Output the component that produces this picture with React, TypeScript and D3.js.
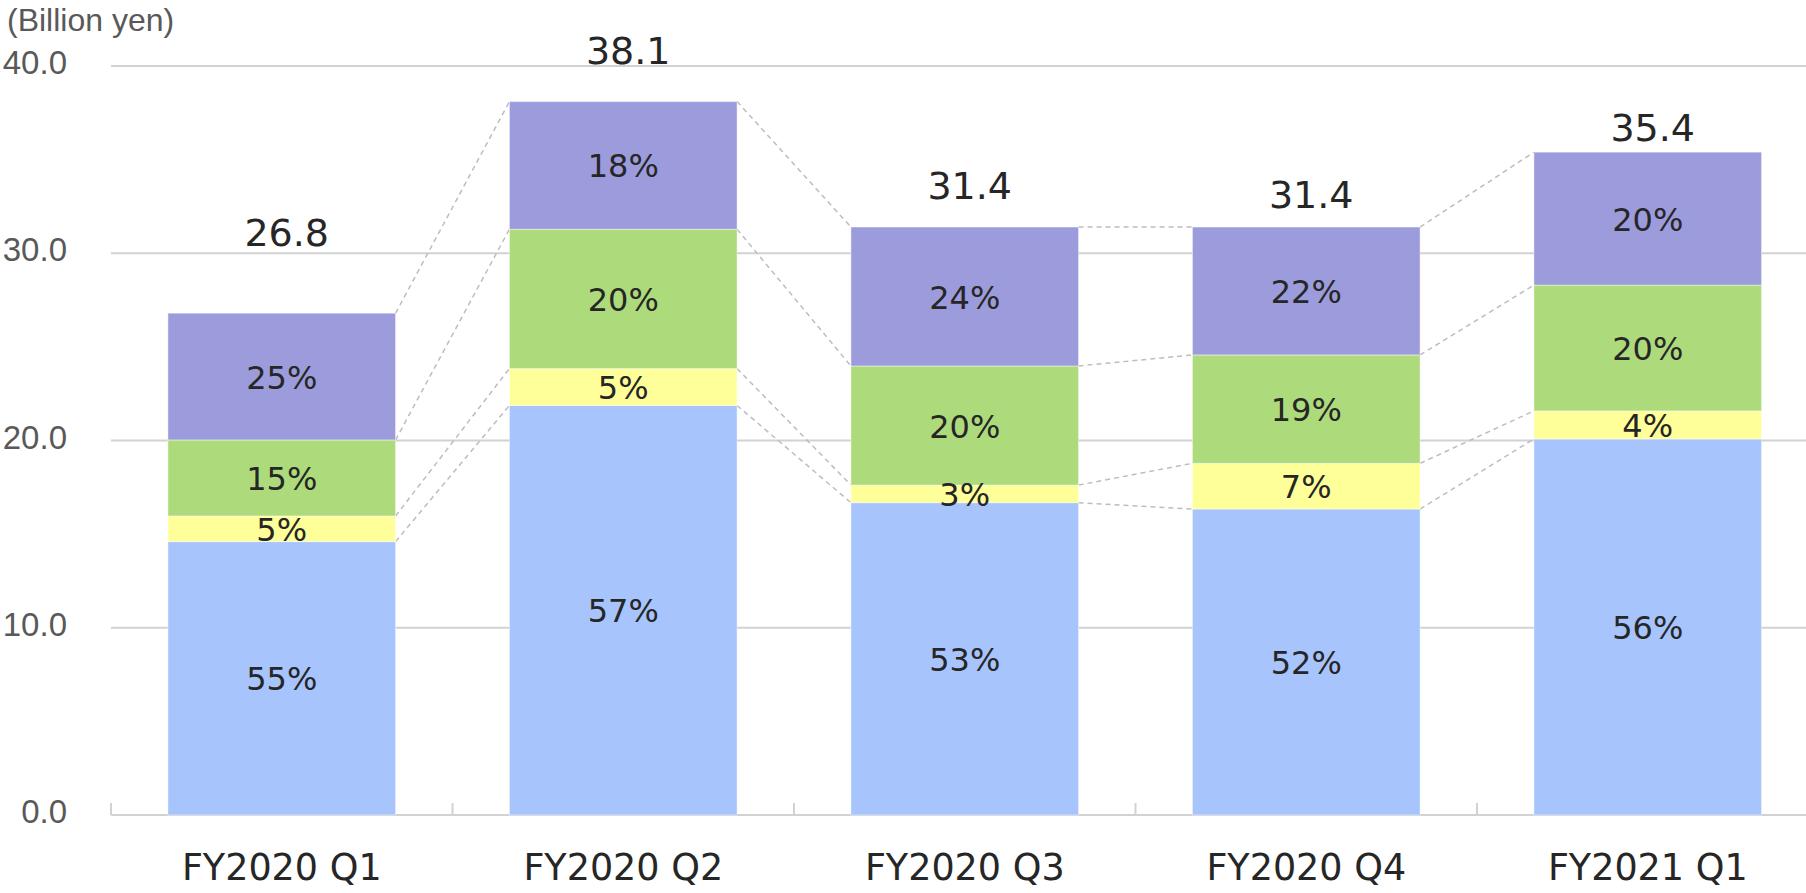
import React from "react";
import * as d3 from "d3";

// quarters shown on the x axis
const categories = ["FY2020 Q1", "FY2020 Q2", "FY2020 Q3", "FY2020 Q4", "FY2021 Q1"];

// stacked segments, billion yen (bottom to top)
const blueValues = [14.6, 21.87, 16.68, 16.34, 20.08];
const yellowValues = [1.37, 1.97, 0.94, 2.44, 1.5];
const greenValues = [4.06, 7.44, 6.36, 5.79, 6.72];
const purpleValues = [6.77, 6.82, 7.42, 6.83, 7.1];

// labels printed on the segments
const bluePct = ["55%", "57%", "53%", "52%", "56%"];
const yellowPct = ["5%", "5%", "3%", "7%", "4%"];
const greenPct = ["15%", "20%", "20%", "19%", "20%"];
const purplePct = ["25%", "18%", "24%", "22%", "20%"];

const totals = ["26.8", "38.1", "31.4", "31.4", "35.4"];
// level (in axis units) where each total label sits
const totalLabelAt = [30.39, 40.09, 32.88, 32.42, 36.0];

const yTicks = [0, 10, 20, 30, 40];

const W = 1806;
const H = 893;
const left = 111;
const step = 341.5;

const series = [
  { values: blueValues, labels: bluePct, color: "#a7c4fd" },
  { values: yellowValues, labels: yellowPct, color: "#ffff99" },
  { values: greenValues, labels: greenPct, color: "#addb7b" },
  { values: purpleValues, labels: purplePct, color: "#9c9cdd" },
];

const numFont = "'DejaVu Sans', Verdana, sans-serif";
const axisFont = "'Liberation Sans', Arial, sans-serif";

export default function App() {
  const x = d3
    .scaleBand<string>()
    .domain(categories)
    .range([left, left + step * categories.length])
    .paddingInner(1 / 3)
    .paddingOuter(1 / 6);

  const y = d3.scaleLinear().domain([0, 40]).range([815, 66]);

  // cumulative stack boundaries per category
  const stacks = categories.map((_, i) => {
    let acc = 0;
    return series.map((s) => {
      const y0 = acc;
      acc += s.values[i];
      return { y0, y1: acc, label: s.labels[i], color: s.color };
    });
  });

  const bw = x.bandwidth();
  const boundaries = [1, 2, 3, 4];

  return (
    <svg
      width={W}
      height={H}
      style={{ position: "fixed", left: 0, top: 0, background: "#fff" }}
    >
      {/* grid */}
      {yTicks.map((t) => (
        <g key={t}>
          <line x1={left} x2={W} y1={y(t)} y2={y(t)} stroke="#d2d2d2" strokeWidth={2} />
          <text
            x={67}
            y={y(t) + 8}
            textAnchor="end"
            fontFamily={axisFont}
            fontSize={33}
            fill="#595959"
          >
            {t.toFixed(1)}
          </text>
        </g>
      ))}
      <text x={7} y={31} fontFamily={axisFont} fontSize={32} fill="#595959">
        (Billion yen)
      </text>

      {/* category boundary ticks */}
      {d3.range(categories.length + 1).map((k) => (
        <line
          key={k}
          x1={left + k * step}
          x2={left + k * step}
          y1={y(0) - 12}
          y2={y(0)}
          stroke="#d2d2d2"
          strokeWidth={2}
        />
      ))}

      {/* dashed connectors */}
      {categories.slice(0, -1).map((c, i) =>
        boundaries.map((b) => (
          <line
            key={c + b}
            x1={(x(c) as number) + bw}
            y1={y(stacks[i][b - 1].y1)}
            x2={x(categories[i + 1]) as number}
            y2={y(stacks[i + 1][b - 1].y1)}
            stroke="#bdbdbd"
            strokeWidth={1.5}
            strokeDasharray="5 4"
          />
        ))
      )}

      {/* bars */}
      {categories.map((c, i) => (
        <g key={c}>
          {stacks[i].map((seg, j) => (
            <rect
              key={j}
              x={x(c)}
              y={y(seg.y1)}
              width={bw}
              height={y(seg.y0) - y(seg.y1)}
              fill={seg.color}
              stroke="rgba(255,255,255,0.45)"
              strokeWidth={1}
            />
          ))}
          {stacks[i].map((seg, j) => (
            <text
              key={"l" + j}
              x={(x(c) as number) + bw / 2}
              y={(y(seg.y0) + y(seg.y1)) / 2 + 12}
              textAnchor="middle"
              fontFamily={numFont}
              fontSize={32}
              fill="#262626"
            >
              {seg.label}
            </text>
          ))}
          <text
            x={(x(c) as number) + bw / 2 + 5}
            y={y(totalLabelAt[i])}
            textAnchor="middle"
            fontFamily={numFont}
            fontSize={38}
            fill="#262626"
          >
            {totals[i]}
          </text>
          <text
            x={(x(c) as number) + bw / 2}
            y={880}
            textAnchor="middle"
            fontFamily={numFont}
            fontSize={36.5}
            fill="#262626"
          >
            {c}
          </text>
        </g>
      ))}
    </svg>
  );
}
